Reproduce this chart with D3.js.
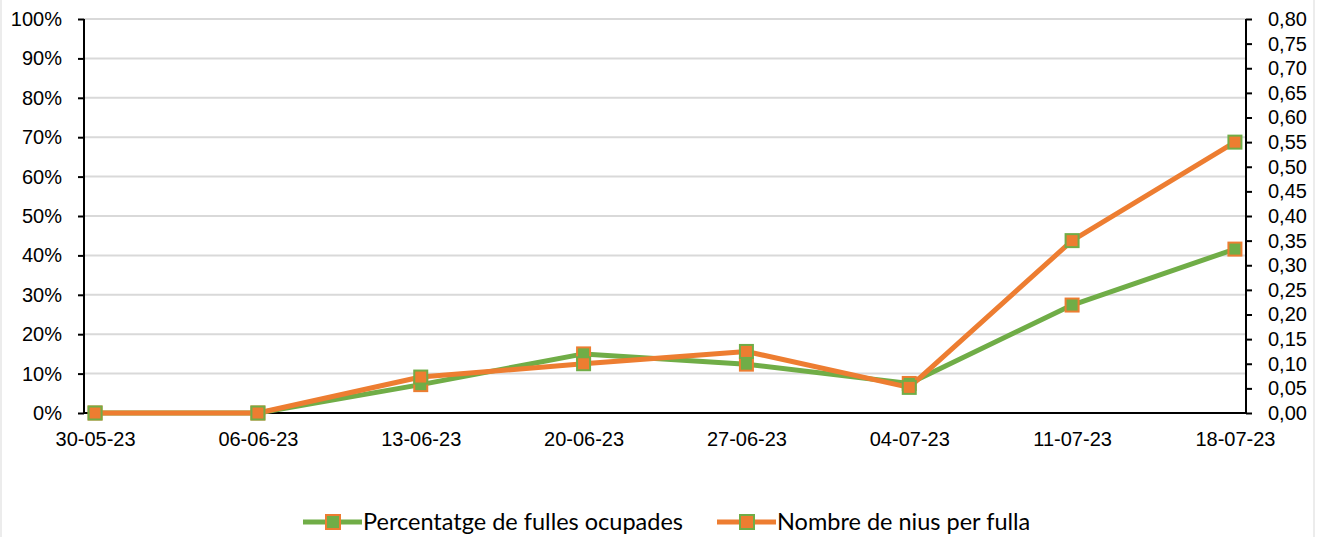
<!DOCTYPE html>
<html>
<head>
<meta charset="utf-8">
<script src="https://cdn.jsdelivr.net/npm/d3@7"></script>
<style>
  body { margin: 0; background: #fff; }
  svg { display: block; font-family: Lato, "Open Sans", sans-serif; }
</style>
</head>
<body>
<script>
const dates = ["30-05-23", "06-06-23", "13-06-23", "20-06-23", "27-06-23", "04-07-23", "11-07-23", "18-07-23"];
const pctOccupied = [0, 0, 0.072, 0.15, 0.124, 0.075, 0.274, 0.416];
const nestsPerLeaf = [0, 0, 0.073, 0.10, 0.125, 0.052, 0.35, 0.55];
const leftTicks = d3.range(0, 1.0001, 0.1);
const rightTicks = d3.range(0, 0.80001, 0.05);

const green = "#70ad47", orange = "#ed7d31";
const W = 1329, H = 537;
const plotLeft = 84, plotRight = 1246, plotTop = 19, plotBottom = 413;

const svg = d3.select("body").append("svg")
  .attr("width", W)
  .attr("height", H)

svg.append("rect")
  .attr("x", 1).attr("y", -5)
  .attr("width", 1313).attr("height", H + 10)
  .attr("fill", "none").attr("stroke", "#d9d9d9")

const x = d3.scalePoint().domain(dates).range([plotLeft, plotRight]).padding(0.068);
const yL = d3.scaleLinear().domain([0, 1]).range([plotBottom, plotTop]);
const yR = d3.scaleLinear().domain([0, 0.8]).range([plotBottom, plotTop]);

// gridlines
svg.append("g")
  .selectAll("line")
  .data(leftTicks.slice(1))
  .enter()
  .append("line")
  .attr("x1", plotLeft).attr("x2", plotRight)
  .attr("y1", d => yL(d)).attr("y2", d => yL(d))
  .attr("stroke", "#d9d9d9").attr("stroke-width", 2)

const leftAxis = d3.axisLeft(yL).tickValues(leftTicks).tickSize(6).tickPadding(16)
  .tickFormat(d => Math.round(d * 100) + "%");
const rightAxis = d3.axisRight(yR).tickValues(rightTicks).tickSize(6).tickPadding(16)
  .tickFormat(d => d3.format(".2f")(d).replace(".", ","));
const bottomAxis = d3.axisBottom(x).tickSize(0).tickPadding(19);

function style(g) {
  g.selectAll("path, line").attr("stroke", "#000").attr("stroke-width", 2);
  g.selectAll("text").attr("fill", "#000").style("font-size", "20px");
}

svg.append("g")
  .attr("transform", "translate(" + plotLeft + ",0)")
  .call(leftAxis).call(style)
  .call(g => g.select(".domain").attr("d", "M0," + plotTop + "V" + plotBottom))

svg.append("g")
  .attr("transform", "translate(" + plotRight + ",0)")
  .call(rightAxis).call(style)
  .call(g => g.select(".domain").attr("d", "M0," + plotTop + "V" + plotBottom))

svg.append("g")
  .attr("transform", "translate(0," + plotBottom + ")")
  .call(bottomAxis).call(style)
  .call(g => g.select(".domain").attr("d", "M" + plotLeft + ",0H" + plotRight))

const series = [
  { values: pctOccupied, y: yL, line: green, fill: green, edge: orange },
  { values: nestsPerLeaf, y: yR, line: orange, fill: orange, edge: green }
];

series.forEach(s => {
  const line = d3.line().x((d, i) => x(dates[i])).y(d => s.y(d));
  svg.append("path")
    .datum(s.values)
    .attr("d", line)
    .attr("fill", "none")
    .attr("stroke", s.line)
    .attr("stroke-width", 5)
    .attr("stroke-linejoin", "round")
});

series.forEach(s => {
  svg.append("g")
    .selectAll("rect")
    .data(s.values)
    .enter()
    .append("rect")
    .attr("x", (d, i) => x(dates[i]) - 6.5)
    .attr("y", d => s.y(d) - 6.5)
    .attr("width", 13).attr("height", 13)
    .attr("fill", s.fill)
    .attr("stroke", s.edge)
    .attr("stroke-width", 2)
});

// legend
const legendItems = [
  { label: "Percentatge de fulles ocupades", line: green, fill: green, edge: orange, x: 303 },
  { label: "Nombre de nius per fulla", line: orange, fill: orange, edge: green, x: 717 }
];
const legend = svg.append("g").attr("id", "legend")
legendItems.forEach(l => {
  const g = legend.append("g").attr("transform", "translate(" + l.x + ",522)")
  g.append("line").attr("x1", 0).attr("x2", 59)
    .attr("stroke", l.line).attr("stroke-width", 5)
  g.append("rect").attr("x", 23).attr("y", -7).attr("width", 14).attr("height", 14)
    .attr("fill", l.fill).attr("stroke", l.edge).attr("stroke-width", 2)
  g.append("text").attr("x", 60).attr("y", 0).attr("dy", "0.35em")
    .style("font-size", "23.5px").text(l.label)
});
</script>
</body>
</html>
